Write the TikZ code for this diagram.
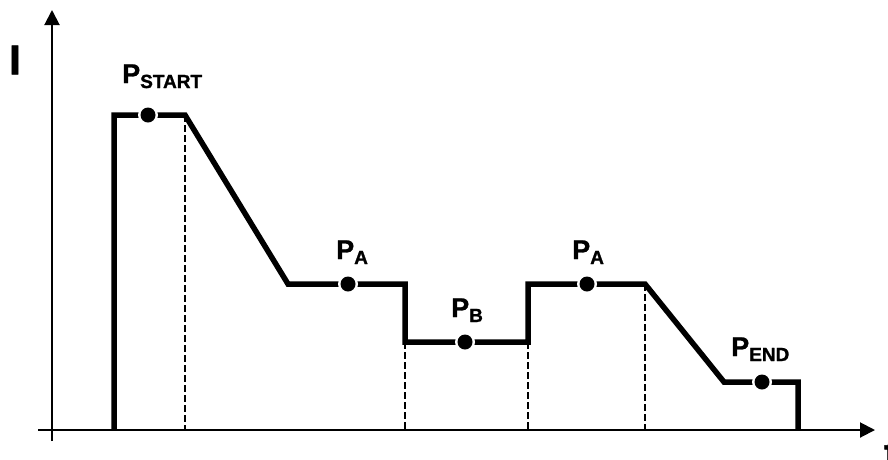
\documentclass[tikz,border=0pt]{standalone}
\usepackage{fontspec}
\setmainfont{Liberation Sans}
\newfontfamily\heavyfont[FakeBold=1.2]{Liberation Sans Bold}
\usetikzlibrary{arrows.meta}
\newcommand{\plabel}[1]{{\fontsize{27}{27}\selectfont P}\raisebox{-5pt}{\fontsize{19}{19}\selectfont #1}}
\tikzset{
  axis/.style={line width=2pt,-{Triangle[length=15pt,width=15pt]}},
  curve/.style={line width=5.5pt,line join=miter},
  guide/.style={line width=1.7pt,dash pattern=on 7pt off 3pt},
  gap/.style={fill=white,draw=none},
  dot/.style={fill=black,draw=none},
  lbl/.style={anchor=base west,inner sep=0pt,font=\heavyfont}
}
\begin{document}
\begin{tikzpicture}[x=1pt,y=-1pt]
\useasboundingbox (0,0) rectangle (888,459);
% points
\coordinate (s0) at (114,430);
\coordinate (s1) at (114,115);
\coordinate (s2) at (185,115);
\coordinate (s3) at (288,284);
\coordinate (s4) at (405,284);
\coordinate (s5) at (405,342);
\coordinate (s6) at (528,342);
\coordinate (s7) at (528,284);
\coordinate (s8) at (645,284);
\coordinate (s9) at (724,382);
\coordinate (s10) at (798,382);
\coordinate (s11) at (798,430);
\coordinate (b2) at (185,430);
\coordinate (b5) at (405,430);
\coordinate (b6) at (528,430);
\coordinate (b8) at (645,430);
\coordinate (d1) at (148,115);
\coordinate (d2) at (348,284);
\coordinate (d3) at (465,342);
\coordinate (d4) at (587,284);
\coordinate (d5) at (762,382);
\coordinate (xa0) at (38,430);
\coordinate (xa1) at (875,430);
\coordinate (ya0) at (52,441);
\coordinate (ya1) at (52,10);
% guides
\draw[guide] (s2) -- (b2);
\draw[guide] (s5) -- (b5);
\draw[guide] (s6) -- (b6);
\draw[guide] (s8) -- (b8);
% axes
\draw[axis] (xa0) -- (xa1);
\draw[axis] (ya0) -- (ya1);
% curve
\draw[curve] (s0) -- (s1) -- (s2) -- (s3) -- (s4) -- (s5) -- (s6) -- (s7) -- (s8) -- (s9) -- (s10) -- (s11);
% dots
\foreach \p in {d1,d2,d3,d4,d5}{
  \fill[gap] (\p) circle (10pt);
  \fill[dot] (\p) circle (7.5pt);
}
% labels
\node[lbl] (lstart) at (122,83) {\plabel{START}};
\node[lbl] (la1) at (336,259) {\plabel{A}};
\node[lbl] (lb) at (451,317) {\plabel{B}};
\node[lbl] (la2) at (572,259) {\plabel{A}};
\node[lbl] (lend) at (731,356) {\plabel{END}};
\node[inner sep=0pt,font=\heavyfont\fontsize{42}{42}\selectfont] (li) at (15,60) {I};
\node[anchor=north west,inner sep=0pt,font=\heavyfont\fontsize{42}{42}\selectfont] (lt) at (884,440) {t};
\end{tikzpicture}
\end{document}
